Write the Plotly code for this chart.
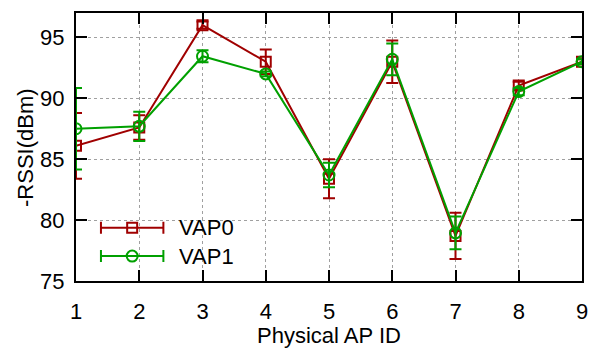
import plotly.graph_objects as go

# ---- data ----
ap_ids = [1, 2, 3, 4, 5, 6, 7, 8, 9]
series_names = ["VAP0", "VAP1"]
vap0 = [86.1, 87.6, 96.0, 93.0, 83.4, 93.0, 78.7, 91.05, 93.0]
vap0_err = [2.7, 1.0, 0.3, 1.0, 1.6, 1.75, 1.9, 0.3, 0.2]
vap1 = [87.5, 87.7, 93.45, 92.0, 83.7, 93.2, 78.95, 90.55, 93.0]
vap1_err = [3.35, 1.2, 0.5, 0.2, 1.0, 1.3, 1.35, 0.3, 0.2]
y_ticks = [75, 80, 85, 90, 95]
x_title = "Physical AP ID"
y_title = "-RSSI(dBm)"

RED = "#a00000"
GREEN = "#00a000"
FONT = "Liberation Sans, Arial, sans-serif"
FS = 22

fig = go.Figure()

styles = [
    (vap0, vap0_err, RED, "square-open", 10),
    (vap1, vap1_err, GREEN, "circle-open", 11),
]
for name, (vals, errs, col, sym, msz) in zip(series_names, styles):
    fig.add_trace(go.Scatter(
        x=ap_ids, y=vals, name=name, mode="lines+markers",
        line=dict(color=col, width=2),
        marker=dict(symbol=sym, size=msz, color=col, line=dict(color=col, width=2)),
        error_y=dict(type="data", array=errs, visible=True, color=col,
                     thickness=2, width=6),
        showlegend=False,
    ))

# ---- custom gnuplot-style key (on hidden overlay axes) ----
key_y = [0.199, 0.093]
for name, (vals, errs, col, sym, msz), ky in zip(series_names, styles, key_y):
    fig.add_trace(go.Scatter(
        x=[0.111], y=[ky], mode="markers", xaxis="x2", yaxis="y2",
        marker=dict(symbol=sym, size=msz, color=col, line=dict(color=col, width=2)),
        error_x=dict(type="constant", value=0.0617, visible=True, color=col,
                     thickness=2, width=6),
        showlegend=False, hoverinfo="skip",
    ))
    fig.add_annotation(x=0.1996, y=ky, xref="paper", yref="paper", text=name,
                       showarrow=False, xanchor="left", yanchor="middle",
                       font=dict(family=FONT, size=FS, color="black"))

# axis titles
fig.add_annotation(x=0.5, y=-0.205, xref="paper", yref="paper", text=x_title,
                   showarrow=False, xanchor="center", yanchor="middle",
                   font=dict(family=FONT, size=FS, color="black"))
fig.add_annotation(x=-0.1008, y=0.5, xref="paper", yref="paper", text=y_title,
                   showarrow=False, xanchor="center", yanchor="middle", textangle=-90,
                   font=dict(family=FONT, size=FS, color="black"))

axis_common = dict(
    showline=True, linecolor="black", linewidth=2, mirror="allticks",
    ticks="inside", ticklen=11, tickwidth=1.5, tickcolor="black",
    showgrid=True, gridcolor="#a0a0a0", griddash="dot", gridwidth=1,
    zeroline=False, automargin=False,
    tickfont=dict(family=FONT, size=FS, color="black"),
)

fig.update_layout(
    width=594, height=348,
    margin=dict(l=76, r=12, t=13, b=67),
    paper_bgcolor="white", plot_bgcolor="white",
    font=dict(family=FONT, size=FS, color="black"),
    xaxis=dict(range=[1, 9], tickvals=ap_ids, ticklabelstandoff=10, **axis_common),
    yaxis=dict(range=[75, 97], tickvals=y_ticks, ticklabelstandoff=5, **axis_common),
    xaxis2=dict(overlaying="x", range=[0, 1], visible=False),
    yaxis2=dict(overlaying="y", range=[0, 1], visible=False),
    showlegend=False,
)

fig.write_html("out.html")
